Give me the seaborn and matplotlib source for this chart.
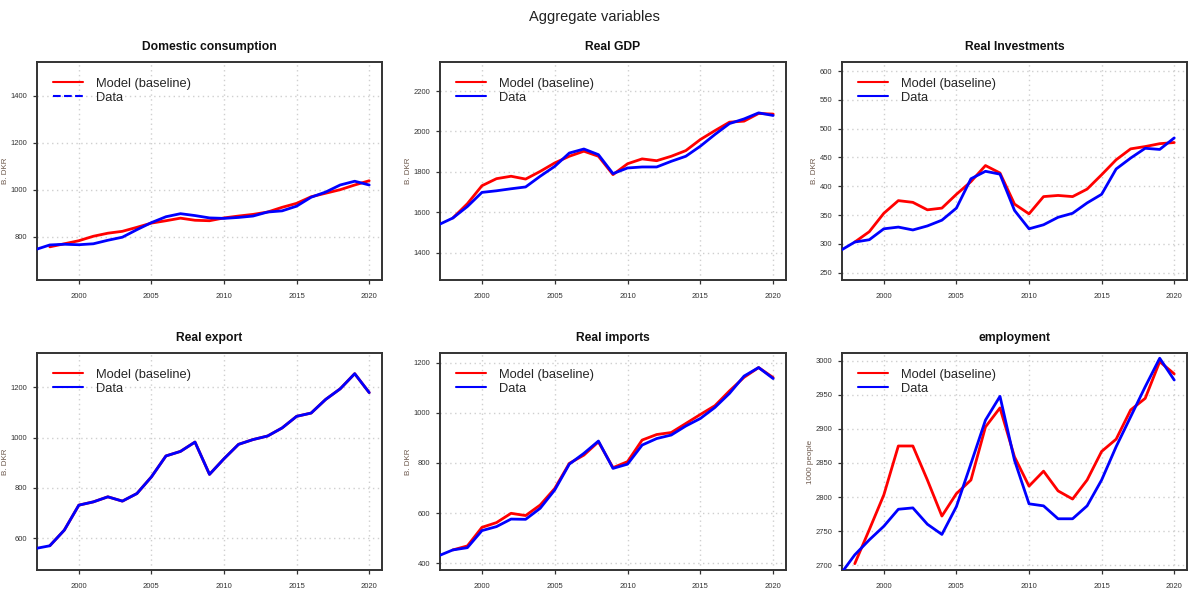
import numpy as np
import pandas as pd
import matplotlib
matplotlib.use("Agg")
import matplotlib.pyplot as plt
from matplotlib.lines import Line2D
import seaborn as sns

years = list(range(1997, 2021))
model_years = list(range(1998, 2021))

# Domestic consumption (B. DKR)
cons_data = [745, 765, 768, 766, 770, 785, 798, 830, 860, 885, 898, 890, 880, 878,
             882, 888, 905, 910, 930, 968, 990, 1020, 1036, 1020]
cons_model = [757, 770, 783, 802, 815, 823, 840, 858, 868, 879, 870, 868, 880,
              888, 895, 905, 925, 942, 970, 985, 1000, 1020, 1038]

# Real GDP (B. DKR)
gdp_data = [1537, 1571, 1628, 1698, 1706, 1716, 1725, 1778, 1827, 1893, 1913, 1885,
            1791, 1819, 1824, 1824, 1852, 1877, 1927, 1985, 2039, 2062, 2092, 2079]
gdp_model = [1571, 1642, 1731, 1766, 1778, 1764, 1802, 1844, 1877, 1902, 1877,
             1786, 1840, 1864, 1855, 1877, 1905, 1960, 2004, 2046, 2051, 2089, 2086]

# Real investments (B. DKR)
inv_data = [288, 303, 307, 326, 329, 324, 331, 341, 362, 413, 426, 421, 358, 326,
            333, 346, 353, 371, 386, 430, 449, 466, 464, 484]
inv_model = [303, 321, 353, 375, 372, 359, 362, 386, 408, 436, 423, 369, 352,
             382, 384, 382, 395, 420, 446, 465, 469, 474, 476]

# Real export (B. DKR)
exp_data = [560, 571, 633, 732, 745, 765, 748, 778, 844, 927, 945, 982, 854, 916,
            973, 992, 1006, 1038, 1084, 1097, 1151, 1193, 1253, 1178]
exp_model = [571, 633, 732, 745, 765, 748, 778, 844, 927, 945, 982, 854, 916,
             973, 992, 1006, 1038, 1084, 1097, 1151, 1193, 1253, 1178]

# Real imports (B. DKR)
imp_data = [429, 453, 462, 530, 546, 576, 575, 619, 692, 795, 838, 887, 778, 795,
            871, 897, 911, 947, 977, 1021, 1077, 1146, 1180, 1136]
imp_model = [453, 469, 543, 562, 599, 590, 632, 698, 798, 831, 884, 781, 805,
             891, 913, 921, 957, 993, 1028, 1087, 1141, 1180, 1140]

# Employment (1000 people)
emp_data = [2686, 2715, 2737, 2757, 2782, 2784, 2760, 2745, 2786, 2849, 2913, 2948,
            2854, 2790, 2787, 2768, 2768, 2787, 2825, 2874, 2918, 2962, 3004, 2972]
emp_model = [2702, 2752, 2803, 2875, 2875, 2825, 2772, 2805, 2825, 2903, 2931,
             2859, 2816, 2838, 2809, 2797, 2825, 2867, 2885, 2928, 2945, 2999, 2981]

titles = ["Domestic consumption", "Real GDP", "Real Investments",
          "Real export", "Real imports", "employment"]
ylabels = ["B. DKR"] * 5 + ["1000 people"]
ylims = [(616, 1543), (1264, 2344), (237, 616), (475, 1335), (373, 1238), (2692.7, 3011.7)]
yticks = [[800, 1000, 1200, 1400], [1400, 1600, 1800, 2000, 2200],
          [250, 300, 350, 400, 450, 500, 550, 600], [600, 800, 1000, 1200],
          [400, 600, 800, 1000, 1200], [2700, 2750, 2800, 2850, 2900, 2950, 3000]]
xticks = [2000, 2005, 2010, 2015, 2020]
series = [(cons_model, cons_data), (gdp_model, gdp_data), (inv_model, inv_data),
          (exp_model, exp_data), (imp_model, imp_data), (emp_model, emp_data)]

sns.set_theme(style="white")
plt.rcParams["font.family"] = ["Liberation Sans", "DejaVu Sans"]

fig = plt.figure(figsize=(11.88, 5.90), dpi=100)
W, H = 1188, 590
cols = [(37, 345), (440, 346), (842, 345)]
rows = [(62, 218), (353, 217)]

RED = "#FF0000"
BLUE = "#0000FF"
FRAME = "#333333"

for i in range(6):
    r, c = divmod(i, 3)
    left, w = cols[c]
    top, h = rows[r]
    ax = fig.add_axes([left / W, 1 - (top + h) / H, w / W, h / H])
    model_vals, data_vals = series[i]
    df_m = pd.DataFrame({"year": model_years, "value": model_vals})
    df_d = pd.DataFrame({"year": years, "value": data_vals})
    sns.lineplot(data=df_m, x="year", y="value", ax=ax, color=RED, lw=2.0, zorder=3)
    sns.lineplot(data=df_d, x="year", y="value", ax=ax, color=BLUE, lw=2.0, zorder=4)
    ax.set_xlim(1997.12, 2020.88)
    ax.set_ylim(*ylims[i])
    ax.set_xticks(xticks)
    ax.set_yticks(yticks[i])
    ax.set_xticklabels([str(t) for t in xticks])
    ax.set_yticklabels([str(t) for t in yticks[i]])
    ax.grid(True, color="#cfcfcf", linestyle=(0, (1, 2.5)), lw=1.0, zorder=0)
    for s in ax.spines.values():
        s.set_color(FRAME)
        s.set_linewidth(1.4)
        s.set_visible(True)
    ax.tick_params(axis="both", which="major", length=3, width=0.9, color=FRAME,
                   labelsize=5.5, labelcolor="#333333", pad=3.8, bottom=True, left=True)
    ax.tick_params(axis="x", pad=6)
    ax.set_xlabel("")
    ax.set_ylabel(ylabels[i], fontsize=5.8, color="#6e5a4e", labelpad=1.5)
    ax.set_title(titles[i], fontsize=8.7, fontweight="bold", color="#111111", pad=8.5)
    data_style = "--" if i == 0 else "-"
    handles = [Line2D([0], [0], color=RED, lw=1.5, ls="-"),
               Line2D([0], [0], color=BLUE, lw=1.5, ls=data_style)]
    ax.legend(handles, ["Model (baseline)", "Data"], loc="upper left", frameon=False,
              fontsize=9.3, handlelength=2.3, handletextpad=1.0, labelspacing=0.15,
              borderaxespad=0.3, bbox_to_anchor=(0.02, 0.97))

fig.text(0.5, 1 - 17 / H, "Aggregate variables", ha="center", va="center",
         fontsize=10.5, color="#222222")

fig.savefig("out.png", dpi=100)
